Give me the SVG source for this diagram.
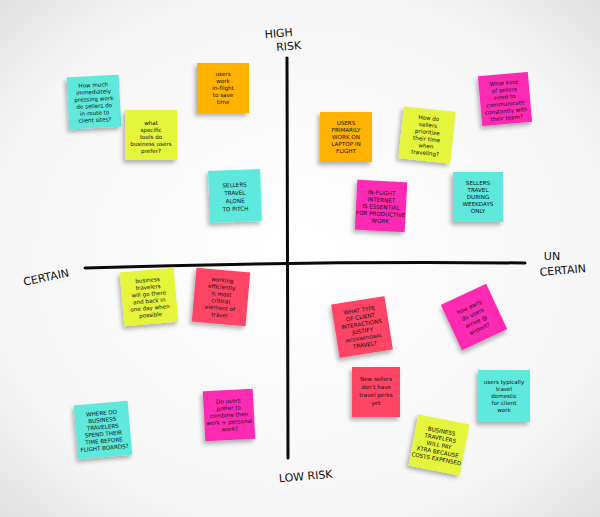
<svg xmlns="http://www.w3.org/2000/svg" width="600" height="517" viewBox="0 0 600 517">
<defs>
<radialGradient id="bg" cx="50%" cy="50%" r="75%">
<stop offset="0" stop-color="#ffffff"/>
<stop offset="0.7" stop-color="#f6f6f6"/>
<stop offset="1" stop-color="#dcdcdc"/>
</radialGradient>
<filter id="sh" x="-30%" y="-30%" width="160%" height="160%">
<feDropShadow dx="-2" dy="3" stdDeviation="2" flood-color="#000" flood-opacity="0.3"/>
</filter>
<style>
.n{filter:url(#sh)}
.c{fill:#5fe8dc}
.o{fill:#ffb300}
.y{fill:#e4f53a}
.m{fill:#ff2bb4}
.r{fill:#ff4466}
text{font-family:"DejaVu Sans","Liberation Sans",sans-serif;fill:#111}
.t{font-size:5.6px;text-anchor:middle}
.lab{font-size:11px;text-anchor:middle}
.ax{fill:none;stroke:#0a0a0a;stroke-width:3;stroke-linecap:round}
</style>
</defs>
<rect width="600" height="517" fill="url(#bg)"/>
<g id="connectors">
<path class="ax" d="M287,58 L288,458"/>
<path class="ax" d="M85,268 Q300,261 525,263"/>
</g>
<g id="labels">
<text class="lab" x="279" y="37" transform="rotate(-5 279 37)">HIGH</text>
<text class="lab" x="289" y="50" transform="rotate(-5 289 50)">RISK</text>
<text class="lab" x="47" y="281" transform="rotate(-12 47 281)">CERTAIN</text>
<text class="lab" x="552" y="260">UN</text>
<text class="lab" x="563" y="274" transform="rotate(-5 563 274)">CERTAIN</text>
<text class="lab" x="306" y="480" transform="rotate(-5 306 480)">LOW RISK</text>
</g>
<g id="n1" transform="translate(94,102) rotate(-3)"><rect class="n c" x="-26" y="-26" width="52" height="52"/>
<text class="t" y="-15">How much<tspan x="0" dy="7">immediately</tspan><tspan x="0" dy="7">pressing work</tspan><tspan x="0" dy="7">do sellers do</tspan><tspan x="0" dy="7">in-route to</tspan><tspan x="0" dy="7">client sites?</tspan></text></g>
<g id="n2" transform="translate(223,88)"><rect class="n o" x="-26" y="-25" width="52" height="50"/>
<text class="t" y="-12">users<tspan x="0" dy="7">work</tspan><tspan x="0" dy="7">in-flight</tspan><tspan x="0" dy="7">to save</tspan><tspan x="0" dy="7">time</tspan></text></g>
<g id="n3" transform="translate(151,135)"><rect class="n y" x="-26" y="-25" width="52" height="50"/>
<text class="t" y="-10">what<tspan x="0" dy="7">specific</tspan><tspan x="0" dy="7">tools do</tspan><tspan x="0" dy="7">business users</tspan><tspan x="0" dy="7">prefer?</tspan></text></g>
<g id="n4" transform="translate(235,196) rotate(-2)"><rect class="n c" x="-26" y="-26" width="52" height="52"/>
<text class="t" y="-9">SELLERS<tspan x="0" dy="8">TRAVEL</tspan><tspan x="0" dy="8">ALONE</tspan><tspan x="0" dy="8">TO PITCH</tspan></text></g>
<g id="n5" transform="translate(346,137)"><rect class="n o" x="-26" y="-25" width="52" height="50"/>
<text class="t" y="-12">USERS<tspan x="0" dy="7">PRIMARILY</tspan><tspan x="0" dy="7">WORK ON</tspan><tspan x="0" dy="7">LAPTOP IN</tspan><tspan x="0" dy="7">FLIGHT</tspan></text></g>
<g id="n6" transform="translate(427,135) rotate(6)"><rect class="n y" x="-26" y="-26" width="52" height="52"/>
<text class="t" y="-15">How do<tspan x="0" dy="7">sellers</tspan><tspan x="0" dy="7">prioritize</tspan><tspan x="0" dy="7">their time</tspan><tspan x="0" dy="7">when</tspan><tspan x="0" dy="7">traveling?</tspan></text></g>
<g id="n7" transform="translate(505,99) rotate(-5)"><rect class="n m" x="-25" y="-25" width="50" height="50"/>
<text class="t" y="-14">What kind<tspan x="0" dy="7">of sellers</tspan><tspan x="0" dy="7">need to</tspan><tspan x="0" dy="7">communicate</tspan><tspan x="0" dy="7">constantly with</tspan><tspan x="0" dy="7">their team?</tspan></text></g>
<g id="n8" transform="translate(381,206) rotate(3)"><rect class="n m" x="-25" y="-25" width="50" height="50"/>
<text class="t" y="-11">IN-FLIGHT<tspan x="0" dy="7">INTERNET</tspan><tspan x="0" dy="7">IS ESSENTIAL</tspan><tspan x="0" dy="7">FOR PRODUCTIVE</tspan><tspan x="0" dy="7">WORK</tspan></text></g>
<g id="n9" transform="translate(478,197)"><rect class="n c" x="-25" y="-25" width="50" height="50"/>
<text class="t" y="-12">SELLERS<tspan x="0" dy="7">TRAVEL</tspan><tspan x="0" dy="7">DURING</tspan><tspan x="0" dy="7">WEEKDAYS</tspan><tspan x="0" dy="7">ONLY</tspan></text></g>
<g id="n10" transform="translate(149,297) rotate(-5)"><rect class="n y" x="-27" y="-27" width="54" height="54"/>
<text class="t" y="-15">business<tspan x="0" dy="7">travelers</tspan><tspan x="0" dy="7">will go there</tspan><tspan x="0" dy="7">and back in</tspan><tspan x="0" dy="7">one day when</tspan><tspan x="0" dy="7">possible</tspan></text></g>
<g id="n11" transform="translate(221,297) rotate(5)"><rect class="n r" x="-27" y="-27" width="54" height="54"/>
<text class="t" y="-15">working<tspan x="0" dy="7">efficiently</tspan><tspan x="0" dy="7">is most</tspan><tspan x="0" dy="7">critical</tspan><tspan x="0" dy="7">element of</tspan><tspan x="0" dy="7">travel</tspan></text></g>
<g id="n12" transform="translate(362,327) rotate(-9)"><rect class="n r" x="-27" y="-27" width="54" height="54"/>
<text class="t" y="-15">WHAT TYPE<tspan x="0" dy="7">OF CLIENT</tspan><tspan x="0" dy="7">INTERACTIONS</tspan><tspan x="0" dy="7">JUSTIFY</tspan><tspan x="0" dy="7" font-size="4.6">INTERNATIONAL</tspan><tspan x="0" dy="7">TRAVEL?</tspan></text></g>
<g id="n13" transform="translate(474,317) rotate(-25)"><rect class="n m" x="-25" y="-25" width="50" height="50"/>
<text class="t" y="-9">how early<tspan x="0" dy="8">do users</tspan><tspan x="0" dy="8">arrive @</tspan><tspan x="0" dy="8">airport?</tspan></text></g>
<g id="n14" transform="translate(376,392)"><rect class="n r" x="-24" y="-25" width="48" height="50"/>
<text class="t" y="-11">New sellers<tspan x="0" dy="8">don't have</tspan><tspan x="0" dy="8">travel perks</tspan><tspan x="0" dy="8">yet</tspan></text></g>
<g id="n15" transform="translate(504,396)"><rect class="n c" x="-26" y="-26" width="52" height="52"/>
<text class="t" y="-12">users typically<tspan x="0" dy="7">travel</tspan><tspan x="0" dy="7">domestic</tspan><tspan x="0" dy="7">for client</tspan><tspan x="0" dy="7">work</tspan></text></g>
<g id="n16" transform="translate(439,445) rotate(11)"><rect class="n y" x="-26" y="-26" width="52" height="52"/>
<text class="t" y="-12">BUSINESS<tspan x="0" dy="7">TRAVELERS</tspan><tspan x="0" dy="7">WILL PAY</tspan><tspan x="0" dy="7">XTRA BECAUSE</tspan><tspan x="0" dy="7">COSTS EXPENSED</tspan></text></g>
<g id="n17" transform="translate(103,430) rotate(-5)"><rect class="n c" x="-27" y="-27" width="54" height="54"/>
<text class="t" y="-15">WHERE DO<tspan x="0" dy="7">BUSINESS</tspan><tspan x="0" dy="7">TRAVELERS</tspan><tspan x="0" dy="7">SPEND THEIR</tspan><tspan x="0" dy="7">TIME BEFORE</tspan><tspan x="0" dy="7">FLIGHT BOARDS?</tspan></text></g>
<g id="n18" transform="translate(229,415) rotate(-3)"><rect class="n m" x="-25" y="-25" width="50" height="50"/>
<text class="t" y="-12">Do users<tspan x="0" dy="7">prefer to</tspan><tspan x="0" dy="7">combine their</tspan><tspan x="0" dy="7">work + personal</tspan><tspan x="0" dy="7">work?</tspan></text></g>
</svg>
